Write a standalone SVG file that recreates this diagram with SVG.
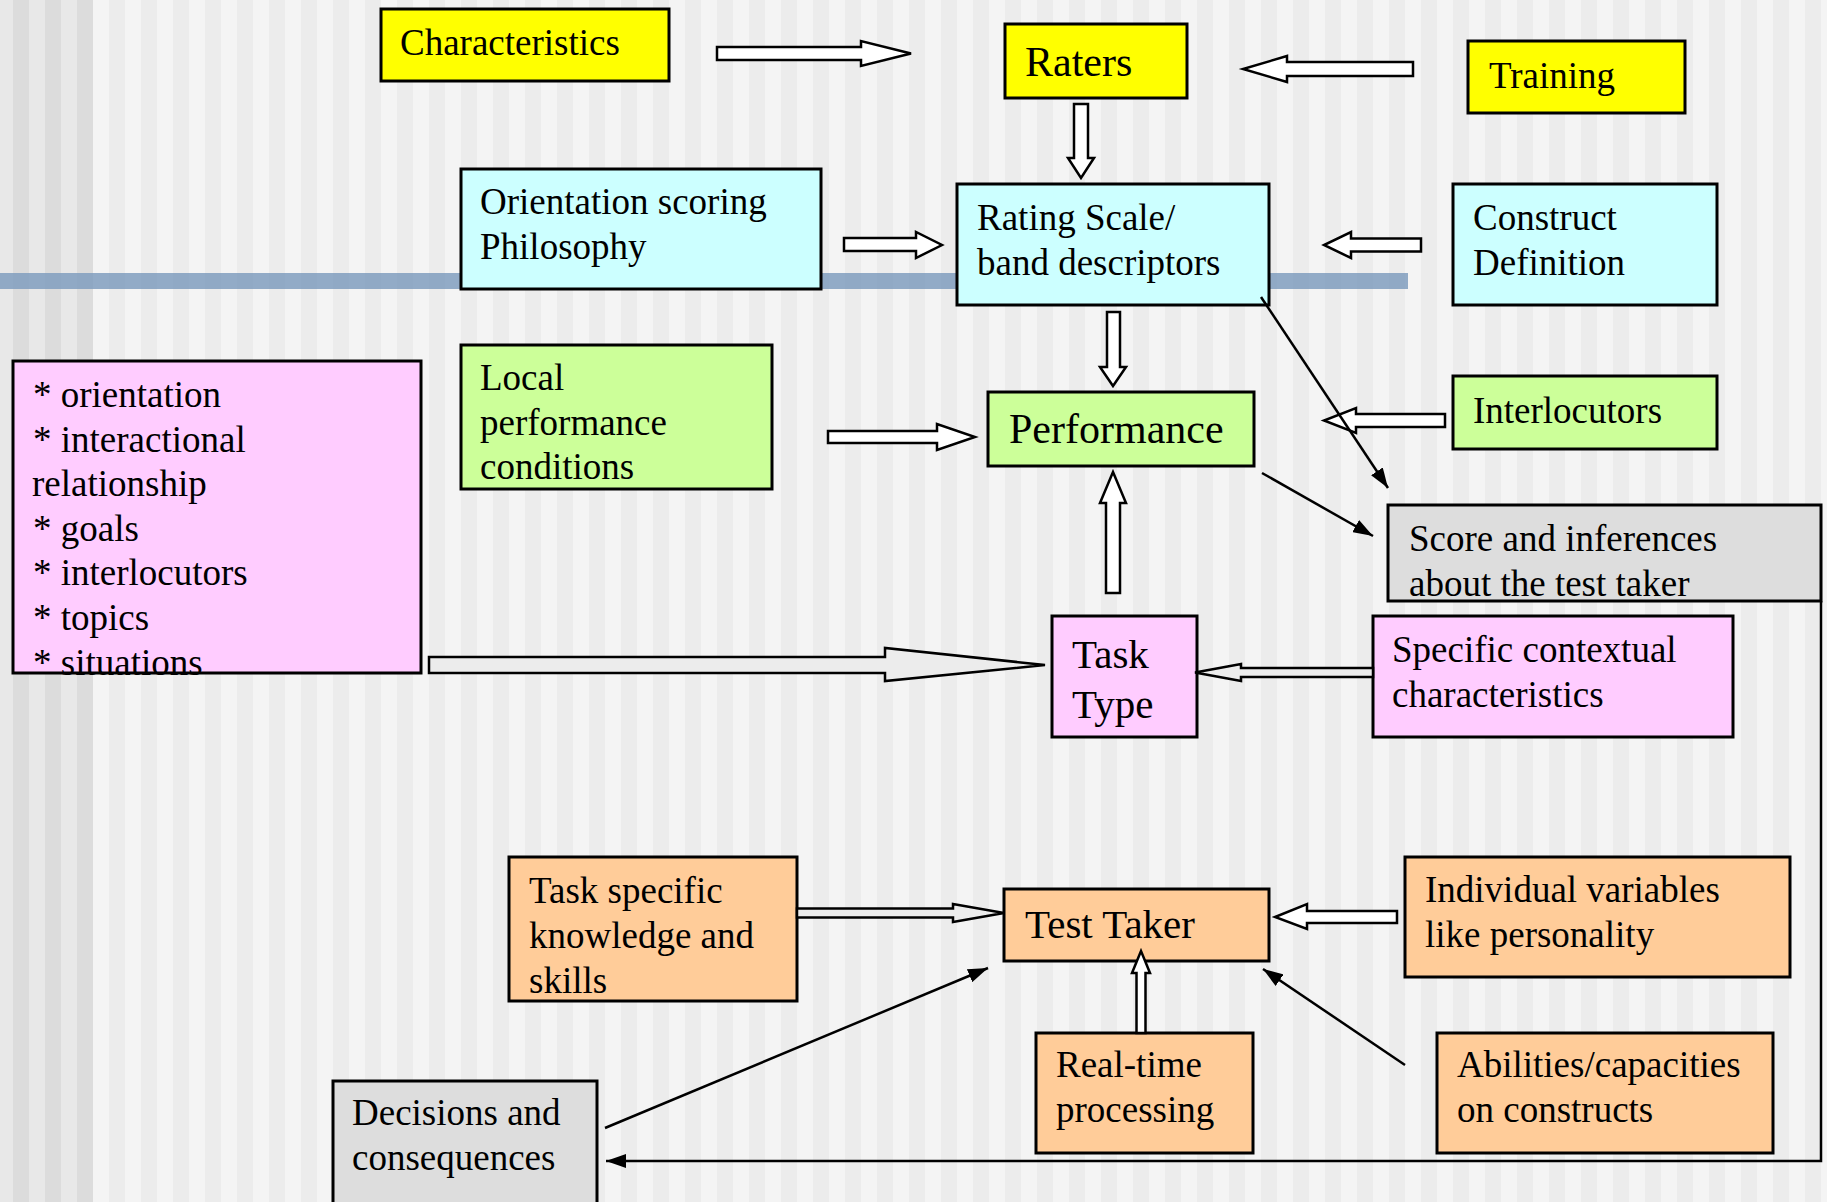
<svg xmlns="http://www.w3.org/2000/svg" width="1827" height="1202" viewBox="0 0 1827 1202">
<defs>
<pattern id="stripesR" x="13" y="0" width="32" height="10" patternUnits="userSpaceOnUse">
<rect x="0" y="0" width="16" height="10" fill="#ececec"/>
<rect x="16" y="0" width="16" height="10" fill="#f4f4f4"/>
</pattern>
<pattern id="stripesL" x="13" y="0" width="32" height="10" patternUnits="userSpaceOnUse">
<rect x="0" y="0" width="16" height="10" fill="#dcdcdc"/>
<rect x="16" y="0" width="16" height="10" fill="#e8e8e8"/>
</pattern>
<marker id="ah" markerWidth="20" markerHeight="14" refX="20" refY="7" orient="auto" markerUnits="userSpaceOnUse">
<path d="M0,0 L20,7 L0,14 Z" fill="#000"/>
</marker>
<style>
.box{stroke:#000;stroke-width:3}
.y{fill:#ffff00}.c{fill:#ccffff}.g{fill:#ccff99}.p{fill:#ffccff}.o{fill:#ffcc99}.gr{fill:#dddddd}
.t{font-family:"Liberation Serif","Times New Roman",serif;font-size:37px;fill:#000}
.big{font-size:42px}
.mid{font-size:41px}
.ba{fill:#fff;stroke:#000;stroke-width:2.5;stroke-linejoin:miter}
.bg2{fill:#ececec}
.ln{fill:none;stroke:#000;stroke-width:2.5}
</style>
</defs>
<g id="background">
<rect x="0" y="0" width="1827" height="1202" fill="url(#stripesR)"/>
<rect x="0" y="0" width="93" height="1202" fill="url(#stripesL)"/>
<rect x="0" y="273" width="1408" height="16" fill="#809ebe" opacity="0.85"/>
</g>
<g id="n-characteristics"><rect class="box y" x="381" y="9" width="288" height="72"/><text class="t" x="400" y="55">Characteristics</text></g>
<g id="n-raters"><rect class="box y" x="1005" y="24" width="182" height="74"/><text class="t big" x="1025" y="76">Raters</text></g>
<g id="n-training"><rect class="box y" x="1468" y="41" width="217" height="72"/><text class="t" x="1489" y="88">Training</text></g>
<g id="n-orientation"><rect class="box c" x="461" y="169" width="360" height="120"/><text class="t" x="480" y="214">Orientation scoring</text><text class="t" x="480" y="259">Philosophy</text></g>
<g id="n-ratingscale"><rect class="box c" x="957" y="184" width="312" height="121"/><text class="t" x="977" y="230">Rating Scale/</text><text class="t" x="977" y="275">band descriptors</text></g>
<g id="n-construct"><rect class="box c" x="1453" y="184" width="264" height="121"/><text class="t" x="1473" y="230">Construct</text><text class="t" x="1473" y="275">Definition</text></g>
<g id="n-local"><rect class="box g" x="461" y="345" width="311" height="144"/><text class="t" x="480" y="390">Local</text><text class="t" x="480" y="435">performance</text><text class="t" x="480" y="479">conditions</text></g>
<g id="n-performance"><rect class="box g" x="988" y="392" width="266" height="74"/><text class="t big" x="1009" y="443">Performance</text></g>
<g id="n-interlocutors"><rect class="box g" x="1453" y="376" width="264" height="73"/><text class="t" x="1473" y="423">Interlocutors</text></g>
<g id="n-list"><rect class="box p" x="13" y="361" width="408" height="312"/>
<text class="t" x="33" y="407">* orientation</text>
<text class="t" x="33" y="452">* interactional</text>
<text class="t" x="32" y="496">relationship</text>
<text class="t" x="33" y="541">* goals</text>
<text class="t" x="33" y="585">* interlocutors</text>
<text class="t" x="33" y="630">* topics</text>
<text class="t" x="33" y="675">* situations</text></g>
<g id="n-score"><rect class="box gr" x="1388" y="505" width="433" height="96"/><text class="t" x="1409" y="551">Score and inferences</text><text class="t" x="1409" y="596">about the test taker</text></g>
<g id="n-tasktype"><rect class="box p" x="1052" y="616" width="145" height="121"/><text class="t mid" x="1072" y="668">Task</text><text class="t mid" x="1072" y="718">Type</text></g>
<g id="n-specific"><rect class="box p" x="1373" y="616" width="360" height="121"/><text class="t" x="1392" y="662">Specific contextual</text><text class="t" x="1392" y="707">characteristics</text></g>
<g id="n-taskspecific"><rect class="box o" x="509" y="857" width="288" height="144"/><text class="t" x="529" y="903">Task specific</text><text class="t" x="529" y="948">knowledge and</text><text class="t" x="529" y="993">skills</text></g>
<g id="n-testtaker"><rect class="box o" x="1004" y="889" width="265" height="72"/><text class="t mid" x="1025" y="938">Test Taker</text></g>
<g id="n-individual"><rect class="box o" x="1405" y="857" width="385" height="120"/><text class="t" x="1425" y="902">Individual variables</text><text class="t" x="1425" y="947">like personality</text></g>
<g id="n-realtime"><rect class="box o" x="1036" y="1033" width="217" height="120"/><text class="t" x="1056" y="1077">Real-time</text><text class="t" x="1056" y="1122">processing</text></g>
<g id="n-abilities"><rect class="box o" x="1437" y="1033" width="336" height="120"/><text class="t" x="1457" y="1077">Abilities/capacities</text><text class="t" x="1457" y="1122">on constructs</text></g>
<g id="n-decisions"><rect class="box gr" x="333" y="1081" width="264" height="125"/><text class="t" x="352" y="1125">Decisions and</text><text class="t" x="352" y="1170">consequences</text></g>
<g id="connectors">
<polygon class="ba" points="717,47 861,47 861,41 911,53.5 861,66 861,60 717,60"/>
<polygon class="ba" points="1413,62 1287,62 1287,56 1243,69 1287,82 1287,76 1413,76"/>
<polygon class="ba" points="1074,104 1074,158 1068,158 1081,178 1094,158 1088,158 1088,104"/>
<polygon class="ba" points="844,238 916,238 916,232 942,245 916,258 916,251 844,251"/>
<polygon class="ba" points="1421,238.5 1351,238.5 1351,232 1324,245 1351,258 1351,251.5 1421,251.5"/>
<polygon class="ba" points="1107,312 1107,367 1100,367 1113,386 1126,367 1120,367 1120,312"/>
<polygon class="ba" points="828,431 937,431 937,424 975,437 937,450 937,443 828,443"/>
<polygon class="ba" points="1445,414 1356,414 1356,408 1324,420.5 1356,433 1356,427 1445,427"/>
<polygon class="ba" points="1106,593 1106,503 1100,503 1113,472 1126,503 1120,503 1120,593"/>
<polygon class="ba bg2" points="429,657 885,657 885,648 1045,665 885,681 885,673 429,673"/>
<polygon class="ba bg2" points="1373,668 1241,668 1241,664 1195,672.5 1241,681 1241,677 1373,677"/>
<polygon class="ba bg2" points="797,908.5 953,908.5 953,904 1004,913 953,922 953,917.5 797,917.5"/>
<polygon class="ba" points="1397,911 1307,911 1307,904 1275,917 1307,929 1307,923 1397,923"/>
<polygon class="ba" points="1136.5,1033 1136.5,973 1132,973 1141,951 1150,973 1145.5,973 1145.5,1033"/>
<line class="ln" x1="1261" y1="297" x2="1388" y2="488" marker-end="url(#ah)"/>
<line class="ln" x1="1262" y1="473" x2="1373" y2="536" marker-end="url(#ah)"/>
<line class="ln" x1="1405" y1="1065" x2="1263" y2="969" marker-end="url(#ah)"/>
<line class="ln" x1="605" y1="1128" x2="988" y2="968" marker-end="url(#ah)"/>
<polyline class="ln" points="1821,601 1821,1161 606,1161" marker-end="url(#ah)"/>
</g>
</svg>
